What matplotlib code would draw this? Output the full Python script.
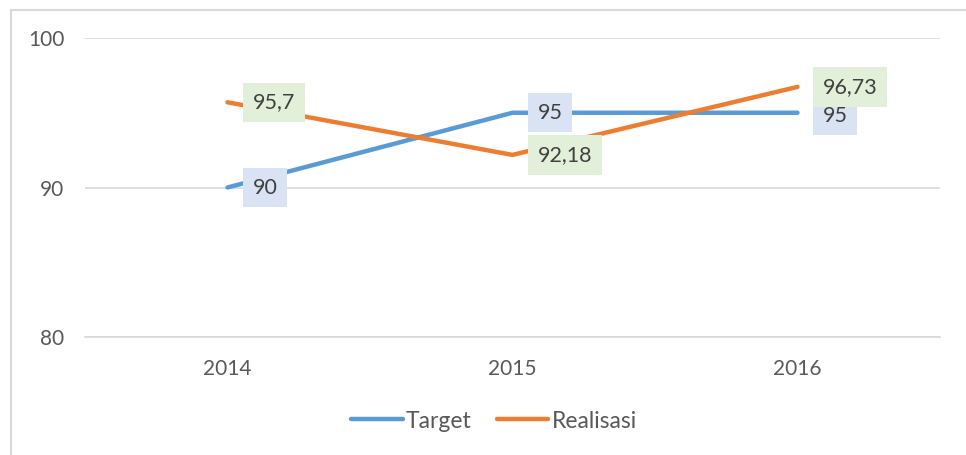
import matplotlib.pyplot as plt
from matplotlib.patches import Rectangle

years = ['2014', '2015', '2016']
target = [90, 95, 95]
realisasi = [95.7, 92.18, 96.73]
target_labels = ['90', '95', '95']
realisasi_labels = ['95,7', '92,18', '96,73']

BLUE = '#5B9BD5'
ORANGE = '#ED7D31'
GRID = '#D9D9D9'
TEXT = '#595959'

plt.rcParams['font.family'] = ['Lato', 'DejaVu Sans']

fig = plt.figure(figsize=(9.66, 4.55), dpi=100)
ax = fig.add_axes([85 / 966, 1 - 337 / 455, 855 / 966, 299 / 455])

# chart frame around everything
fig.patches.append(Rectangle((11 / 966, -0.2), 2, 1.2 - 10 / 455,
                             transform=fig.transFigure, fill=False,
                             edgecolor=GRID, linewidth=1.5))

x = range(len(years))
ax.plot(x, target, color=BLUE, linewidth=3.2, solid_capstyle='round',
        label='Target', zorder=3)
ax.plot(x, realisasi, color=ORANGE, linewidth=3.2, solid_capstyle='round',
        label='Realisasi', zorder=3)


def add_labels(values, labels, face, nudge=(0, 0, 0)):
    # nudge: small vertical shift in pixels, to keep overlapping labels readable
    for i, (v, lab) in enumerate(zip(values, labels)):
        ax.annotate(lab, (i, v), xytext=(25, nudge[i]),
                    textcoords='offset pixels',
                    ha='left', va='center', fontsize=15.5, color='#404040',
                    bbox=dict(boxstyle='square,pad=0.45', facecolor=face,
                              edgecolor='none'), zorder=4)


add_labels(target, target_labels, '#DAE3F3', nudge=(0, 0, -3))
add_labels(realisasi, realisasi_labels, '#E2F0D9')

ax.set_xlim(-0.5, 2.5)
ax.set_ylim(80, 100)
ax.set_yticks([80, 90, 100])
ax.set_xticks(list(x))
ax.set_xticklabels(years)
ax.grid(axis='y', color=GRID, linewidth=1.2)
ax.set_axisbelow(True)
for s in ['top', 'right', 'left']:
    ax.spines[s].set_visible(False)
ax.spines['bottom'].set_color(GRID)
ax.spines['bottom'].set_linewidth(1.2)
ax.tick_params(length=0, labelsize=15, labelcolor=TEXT)
ax.tick_params(axis='y', pad=15)
ax.tick_params(axis='x', pad=16)

fig.legend(loc='center', bbox_to_anchor=(494 / 966, 1 - 421 / 455), ncol=2,
           frameon=False, fontsize=16.5, handlelength=2.25,
           handletextpad=0.15, columnspacing=1.1, labelcolor=TEXT)

fig.savefig('out.png', dpi=100)
